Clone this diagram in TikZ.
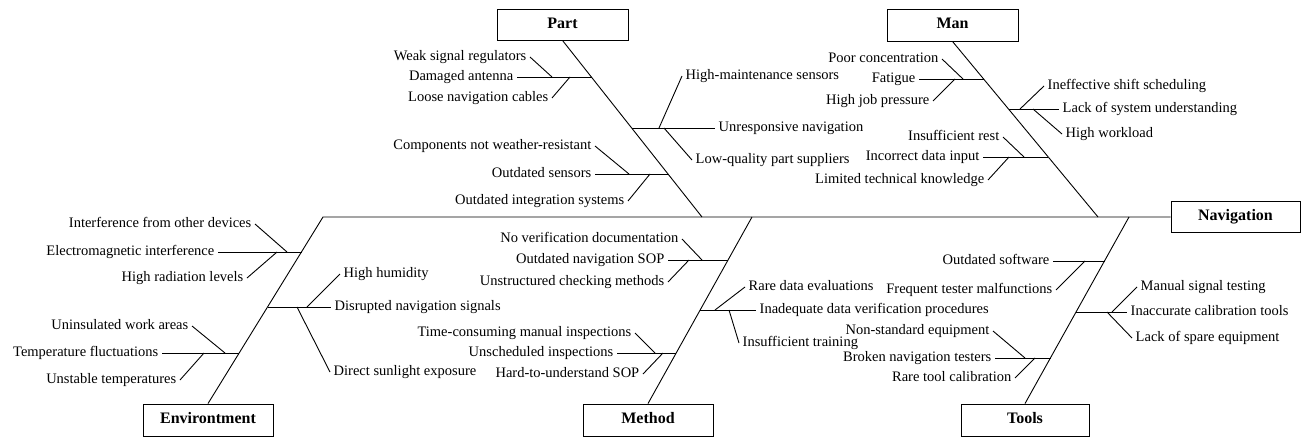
\documentclass[tikz,border=0pt]{standalone}
\usepackage{fontspec}
\setmainfont{Liberation Serif}
\begin{document}
\begin{tikzpicture}[x=1pt,y=-1pt,
  lbl/.style={font=\fontsize{14.5}{16}\selectfont, inner ysep=0pt, inner xsep=3.5pt, text height=0.74em, text depth=0em},
  cat/.style={draw, line width=0.9pt, font=\fontsize{16}{18}\selectfont\bfseries, inner sep=0pt, text height=0.74em, text depth=0em},
  bone/.style={line width=0.9pt},
  twig/.style={line width=0.9pt}]
\useasboundingbox (0,0) rectangle (1310,437);

% category boxes
\node[cat, minimum width=131pt, minimum height=31pt] (part) at (562.5,24.5) {Part};
\node[cat, minimum width=131pt, minimum height=32pt] (man) at (952.5,25) {Man};
\node[cat, minimum width=129pt, minimum height=31pt] (nav) at (1235.5,217) {Navigation};
\node[cat, minimum width=130pt, minimum height=32pt] (env) at (208,420) {Environtment};
\node[cat, minimum width=130pt, minimum height=32pt] (meth) at (648,420) {Method};
\node[cat, minimum width=128pt, minimum height=32pt] (tools) at (1025,420) {Tools};

% spine and bones
\coordinate (envtop) at (323,217);
\coordinate (parttip) at (702,217);
\coordinate (mantip) at (1098,217);
\coordinate (methtop) at (752,217);
\coordinate (toolstop) at (1129,217);
\draw[bone] (env.north) -- (envtop) -- (nav.west);
\draw[bone] (part.south) -- (parttip);
\draw[bone] (man.south) -- (mantip);
\draw[bone] (meth.north) -- (methtop);
\draw[bone] (tools.north) -- (toolstop);

% ---------------- Part ----------------
\coordinate (p1) at (591.7,77);
\coordinate (p1j1) at (552,77);
\coordinate (p1j2) at (570,77);
\node[lbl, anchor=east] (p1b) at (517,77) {Damaged antenna};
\node[lbl, anchor=east] (p1a) at (530,57) {Weak signal regulators};
\node[lbl, anchor=east] (p1c) at (552,98) {Loose navigation cables};
\draw[twig] (p1b.east) -- (p1);
\draw[twig] (p1a.east) -- (p1j1);
\draw[twig] (p1c.east) -- (p1j2);

\coordinate (p2) at (631.9,128);
\coordinate (p2j1) at (659,128);
\coordinate (p2j2) at (664,128);
\node[lbl, anchor=west] (p2b) at (715,128) {Unresponsive navigation};
\node[lbl, anchor=west] (p2a) at (682,76) {High-maintenance sensors};
\node[lbl, anchor=west] (p2c) at (692,160) {Low-quality part suppliers};
\draw[twig] (p2) -- (p2b.west);
\draw[twig] (p2j1) -- (p2a.west);
\draw[twig] (p2j2) -- (p2c.west);

\coordinate (p3) at (668.1,174);
\coordinate (p3j1) at (629,174);
\coordinate (p3j2) at (650,174);
\node[lbl, anchor=east] (p3b) at (595,174) {Outdated sensors};
\node[lbl, anchor=east] (p3a) at (595,146) {Components not weather-resistant};
\node[lbl, anchor=east] (p3c) at (628,201) {Outdated integration systems};
\draw[twig] (p3b.east) -- (p3);
\draw[twig] (p3a.east) -- (p3j1);
\draw[twig] (p3c.east) -- (p3j2);

% ---------------- Man ----------------
\coordinate (m1) at (983.9,79);
\coordinate (m1j1) at (963,79);
\coordinate (m1j2) at (955,79);
\node[lbl, anchor=east] (m1b) at (919,79) {Fatigue};
\node[lbl, anchor=east] (m1a) at (942,59) {Poor concentration};
\node[lbl, anchor=east] (m1c) at (933,101) {High job pressure};
\draw[twig] (m1b.east) -- (m1);
\draw[twig] (m1a.east) -- (m1j1);
\draw[twig] (m1c.east) -- (m1j2);

\coordinate (m2) at (1008.7,109);
\coordinate (m2j1) at (1020,109);
\coordinate (m2j2) at (1033,109);
\node[lbl, anchor=west] (m2b) at (1059,109) {Lack of system understanding};
\node[lbl, anchor=west] (m2a) at (1044,86) {Ineffective shift scheduling};
\node[lbl, anchor=west] (m2c) at (1062,134) {High workload};
\draw[twig] (m2) -- (m2b.west);
\draw[twig] (m2j1) -- (m2a.west);
\draw[twig] (m2j2) -- (m2c.west);

\coordinate (m3) at (1048.4,157);
\coordinate (m3j1) at (1024,157);
\coordinate (m3j2) at (1009,157);
\node[lbl, anchor=east] (m3b) at (983,157) {Incorrect data input};
\node[lbl, anchor=east] (m3a) at (1003,137) {Insufficient rest};
\node[lbl, anchor=east] (m3c) at (988,180) {Limited technical knowledge};
\draw[twig] (m3b.east) -- (m3);
\draw[twig] (m3a.east) -- (m3j1);
\draw[twig] (m3c.east) -- (m3j2);

% ---------------- Environment ----------------
\coordinate (e1) at (301.5,252);
\coordinate (e1j1) at (287,252);
\coordinate (e1j2) at (277,252);
\node[lbl, anchor=east] (e1b) at (218,252) {Electromagnetic interference};
\node[lbl, anchor=east] (e1a) at (255,224) {Interference from other devices};
\node[lbl, anchor=east] (e1c) at (247,278) {High radiation levels};
\draw[twig] (e1b.east) -- (e1);
\draw[twig] (e1a.east) -- (e1j1);
\draw[twig] (e1c.east) -- (e1j2);

\coordinate (e2) at (267.7,307);
\coordinate (e2j1) at (307,307);
\coordinate (e2j2) at (297,307);
\node[lbl, anchor=west] (e2b) at (331,307) {Disrupted navigation signals};
\node[lbl, anchor=west] (e2a) at (340,274) {High humidity};
\node[lbl, anchor=west] (e2c) at (330,372) {Direct sunlight exposure};
\draw[twig] (e2) -- (e2b.west);
\draw[twig] (e2j1) -- (e2a.west);
\draw[twig] (e2j2) -- (e2c.west);

\coordinate (e3) at (239.4,353);
\coordinate (e3j1) at (225,353);
\coordinate (e3j2) at (204,353);
\node[lbl, anchor=east] (e3b) at (162,353) {Temperature fluctuations};
\node[lbl, anchor=east] (e3a) at (192,326) {Uninsulated work areas};
\node[lbl, anchor=east] (e3c) at (180,380) {Unstable temperatures};
\draw[twig] (e3b.east) -- (e3);
\draw[twig] (e3a.east) -- (e3j1);
\draw[twig] (e3c.east) -- (e3j2);

% ---------------- Method ----------------
\coordinate (t1) at (728.1,260);
\coordinate (t1j1) at (702,260);
\coordinate (t1j2) at (689,260);
\node[lbl, anchor=east] (t1b) at (668,260) {Outdated navigation SOP};
\node[lbl, anchor=east] (t1a) at (682,239) {No verification documentation};
\node[lbl, anchor=east] (t1c) at (668,282) {Unstructured checking methods};
\draw[twig] (t1b.east) -- (t1);
\draw[twig] (t1a.east) -- (t1j1);
\draw[twig] (t1c.east) -- (t1j2);

\coordinate (t2) at (700.3,310);
\coordinate (t2j1) at (715,310);
\coordinate (t2j2) at (729,310);
\node[lbl, anchor=west] (t2b) at (756,310) {Inadequate data verification procedures};
\node[lbl, anchor=west] (t2a) at (745,287) {Rare data evaluations};
\node[lbl, anchor=west] (t2c) at (739,343) {Insufficient training};
\draw[twig] (t2) -- (t2b.west);
\draw[twig] (t2j1) -- (t2a.west);
\draw[twig] (t2j2) -- (t2c.west);

\coordinate (t3) at (676.4,353);
\coordinate (t3j1) at (655,353);
\coordinate (t3j2) at (663,353);
\node[lbl, anchor=east] (t3b) at (617,353) {Unscheduled inspections};
\node[lbl, anchor=east] (t3a) at (635,333) {Time-consuming manual inspections};
\node[lbl, anchor=east] (t3c) at (643,374) {Hard-to-understand SOP};
\draw[twig] (t3b.east) -- (t3);
\draw[twig] (t3a.east) -- (t3j1);
\draw[twig] (t3c.east) -- (t3j2);

% ---------------- Tools ----------------
\coordinate (l1) at (1104.5,261);
\coordinate (l1j1) at (1085,261);
\node[lbl, anchor=east] (l1b) at (1053,261) {Outdated software};
\node[lbl, anchor=east] (l1c) at (1056,290) {Frequent tester malfunctions};
\draw[twig] (l1b.east) -- (l1);
\draw[twig] (l1c.east) -- (l1j1);

\coordinate (l2) at (1076.2,312);
\coordinate (l2j1) at (1112,312);
\coordinate (l2j2) at (1107,312);
\node[lbl, anchor=west] (l2b) at (1127,312) {Inaccurate calibration tools};
\node[lbl, anchor=west] (l2a) at (1137,287) {Manual signal testing};
\node[lbl, anchor=west] (l2c) at (1132,338) {Lack of spare equipment};
\draw[twig] (l2) -- (l2b.west);
\draw[twig] (l2j1) -- (l2a.west);
\draw[twig] (l2j2) -- (l2c.west);

\coordinate (l3) at (1050.6,358);
\coordinate (l3j1) at (1025,358);
\coordinate (l3j2) at (1035,358);
\node[lbl, anchor=east] (l3b) at (995,358) {Broken navigation testers};
\node[lbl, anchor=east] (l3a) at (993,331) {Non-standard equipment};
\node[lbl, anchor=east] (l3c) at (1015,378) {Rare tool calibration};
\draw[twig] (l3b.east) -- (l3);
\draw[twig] (l3a.east) -- (l3j1);
\draw[twig] (l3c.east) -- (l3j2);
\end{tikzpicture}
\end{document}
